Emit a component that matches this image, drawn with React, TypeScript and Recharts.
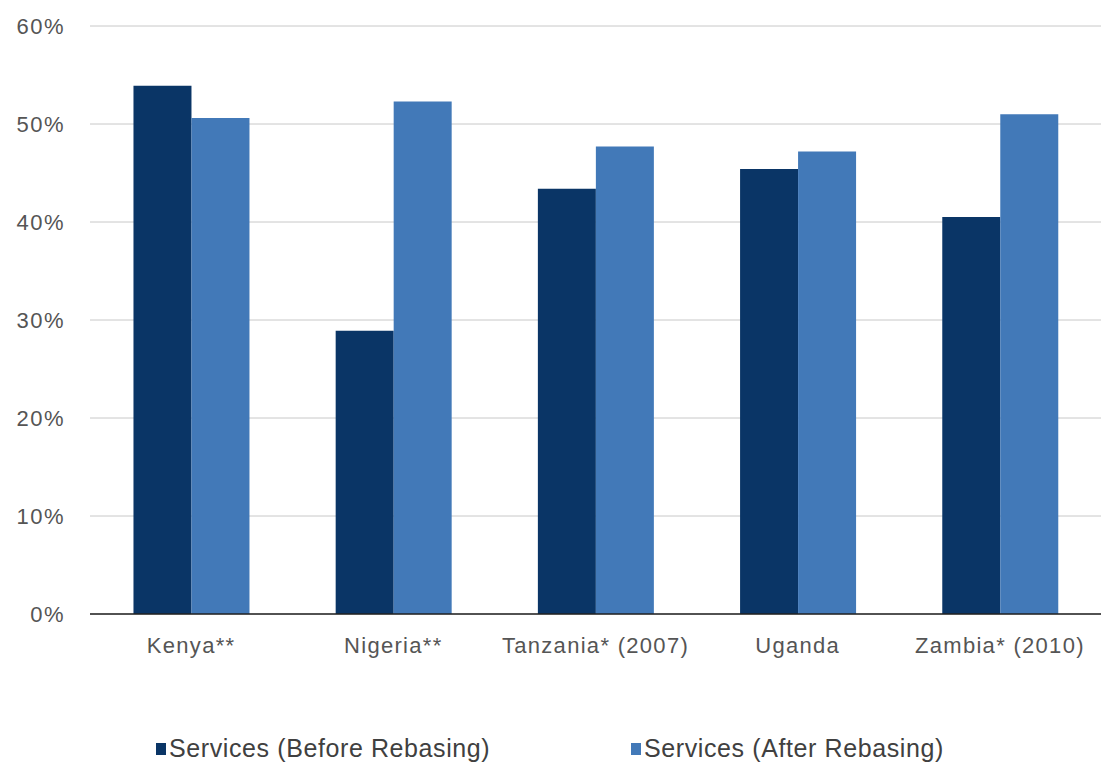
import { Bar, BarChart, CartesianGrid, Legend, XAxis, YAxis } from 'recharts';

const countries = ['Kenya**', 'Nigeria**', 'Tanzania* (2007)', 'Uganda', 'Zambia* (2010)'];
const beforeRebasing = [53.9, 28.9, 43.4, 45.4, 40.5];
const afterRebasing = [50.6, 52.3, 47.7, 47.2, 51.0];
const yTicks = [0, 10, 20, 30, 40, 50, 60];

const seriesNames = ['Services (Before Rebasing)', 'Services (After Rebasing)'];
const colors = ['#0a3566', '#4279b8'];

const data = countries.map((name, i) => ({
  name,
  before: beforeRebasing[i],
  after: afterRebasing[i],
}));

const font = '"Liberation Sans", Arial, sans-serif';

function ServicesLegend() {
  return (
    <div style={{ position: 'relative', height: 43, fontFamily: font, fontSize: 25, color: '#404040', letterSpacing: 0.6 }}>
      {seriesNames.map((label, i) => (
        <span
          key={label}
          style={{ position: 'absolute', left: i === 0 ? 156 : 631, top: 10, display: 'flex', alignItems: 'center', whiteSpace: 'nowrap' }}
        >
          <span style={{ display: 'inline-block', width: 10, height: 12, background: colors[i], marginRight: 3 }} />
          {label}
        </span>
      ))}
    </div>
  );
}

export default function App() {
  return (
    <div style={{ position: 'absolute', left: 0, top: 0, width: 1101, height: 767, background: '#fff' }}>
      <BarChart
        width={1101}
        height={767}
        data={data}
        margin={{ top: 26, right: 0, bottom: 0, left: 0 }}
        barCategoryGap="21.5%"
        barGap={0}
      >
        <CartesianGrid vertical={false} stroke="#c8c8c8" />
        <XAxis
          dataKey="name"
          tickLine={false}
          tickSize={0}
          tickMargin={23}
          height={110}
          axisLine={{ stroke: '#222', strokeWidth: 1.5 }}
          tick={{ fill: '#555', fontSize: 22, fontFamily: font, letterSpacing: 1.3 }}
          interval={0}
        />
        <YAxis
          width={90}
          domain={[0, 60]}
          ticks={yTicks}
          tickFormatter={(v) => `${v}%`}
          tickLine={false}
          axisLine={false}
          tickSize={0}
          tickMargin={25}
          tick={{ fill: '#555', fontSize: 22, fontFamily: font, letterSpacing: 1.5 }}
        />
        <Legend verticalAlign="bottom" align="left" height={43} content={<ServicesLegend />} />
        <Bar dataKey="before" name={seriesNames[0]} fill={colors[0]} isAnimationActive={false} />
        <Bar dataKey="after" name={seriesNames[1]} fill={colors[1]} isAnimationActive={false} />
      </BarChart>
    </div>
  );
}
